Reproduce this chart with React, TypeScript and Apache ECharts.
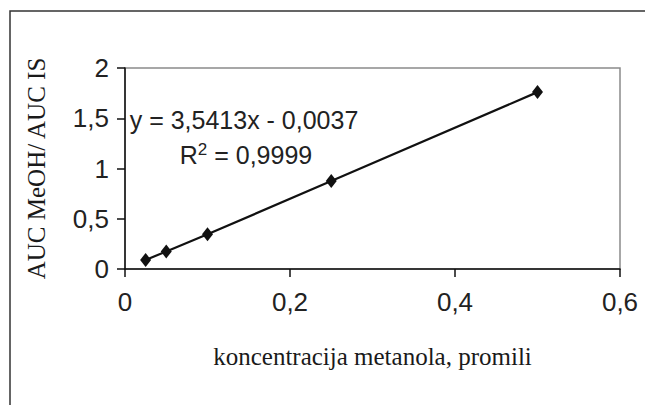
import React, { useEffect, useRef } from "react";
import * as echarts from "echarts";

const concentrations = [0.025, 0.05, 0.1, 0.25, 0.5];
const ratios = [0.09, 0.175, 0.345, 0.875, 1.76];
const xTicks = { min: 0, max: 0.6, interval: 0.2 };
const yTicks = { min: 0, max: 2, interval: 0.5 };
const equationText = "y = 3,5413x - 0,0037";
const r2Value = "0,9999";
const xName = "koncentracija metanola, promili";
const yName = "AUC MeOH/ AUC IS";

const fmt = (v: number) => String(Math.round(v * 10) / 10).replace(".", ",");

export default function App() {
  const ref = useRef<HTMLDivElement>(null);
  useEffect(() => {
    if (!ref.current) return;
    const chart = echarts.init(ref.current, undefined, { renderer: "svg" });
    const sans = "'Liberation Sans', Arial, sans-serif";
    const serif = "'Liberation Serif', 'Times New Roman', serif";
    chart.setOption({
      animation: false,
      backgroundColor: "#ffffff",
      grid: {
        left: 125,
        right: 25,
        top: 68,
        bottom: 136,
        show: true,
        borderColor: "#8a8a8a",
        borderWidth: 1.5,
        backgroundColor: "#ffffff",
      },
      xAxis: {
        type: "value",
        min: xTicks.min,
        max: xTicks.max,
        interval: xTicks.interval,
        name: xName,
        nameLocation: "middle",
        nameGap: 75,
        nameTextStyle: { fontFamily: serif, fontSize: 25, color: "#1a1a1a" },
        axisLine: { show: true, lineStyle: { color: "#111", width: 1.5 } },
        axisTick: { show: true, inside: false, length: 8, lineStyle: { color: "#111", width: 1.5 } },
        axisLabel: {
          margin: 20,
          fontFamily: sans,
          fontSize: 26,
          color: "#222",
          formatter: (v: number) => fmt(v),
        },
        splitLine: { show: false },
      },
      yAxis: {
        type: "value",
        min: yTicks.min,
        max: yTicks.max,
        interval: yTicks.interval,
        name: yName,
        nameLocation: "middle",
        nameRotate: 90,
        nameGap: 76,
        nameTextStyle: { fontFamily: serif, fontSize: 25, color: "#1a1a1a" },
        axisLine: { show: true, lineStyle: { color: "#111", width: 1.5 } },
        axisTick: { show: true, inside: false, length: 8, lineStyle: { color: "#111", width: 1.5 } },
        axisLabel: {
          margin: 16,
          fontFamily: sans,
          fontSize: 26,
          color: "#222",
          formatter: (v: number) => fmt(v),
        },
        splitLine: { show: false },
      },
      series: [
        {
          type: "line",
          data: concentrations.map((c, i) => [c, ratios[i]]),
          symbol: "diamond",
          symbolSize: [11, 14],
          itemStyle: { color: "#111" },
          lineStyle: { color: "#111", width: 2.2 },
          z: 5,
        },
      ],
      graphic: [
        {
          type: "rect",
          shape: { x: 10, y: 11, width: 700, height: 500 },
          style: { fill: "none", stroke: "#333", lineWidth: 1.5 },
          silent: true,
          z: 100,
        },
        {
          type: "text",
          x: 244,
          y: 120,
          style: {
            text: equationText,
            font: `25px ${sans}`,
            fill: "#222",
            align: "center",
            verticalAlign: "middle",
          },
          z: 50,
        },
        {
          type: "text",
          x: 246,
          y: 155,
          style: {
            text: `{n|R}{s|2}{n| = ${r2Value}}`,
            align: "center",
            verticalAlign: "middle",
            rich: {
              n: { fontFamily: sans, fontSize: 25, fill: "#222", color: "#222" },
              s: { fontFamily: sans, fontSize: 17, fill: "#222", color: "#222", verticalAlign: "top", padding: [0, 0, 11, 0] },
            },
          },
          z: 50,
        },
      ],
    });
    return () => chart.dispose();
  }, []);
  return (
    <div
      ref={ref}
      style={{ position: "fixed", left: 0, top: 0, width: 645, height: 405, background: "#fff" }}
    />
  );
}
